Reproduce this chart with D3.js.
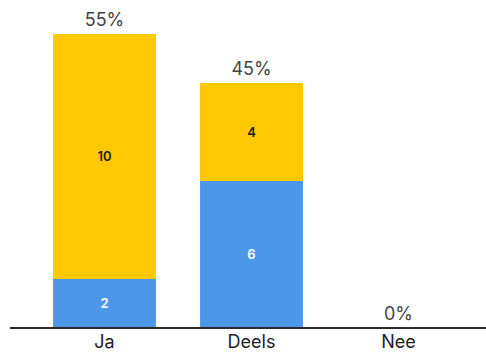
<!DOCTYPE html>
<html>
<head>
<meta charset="utf-8">
<script src="https://cdn.jsdelivr.net/npm/d3@7"></script>
<style>
  body { margin: 0; background: #fff; }
  svg { display: block; font-family: Inter, "Open Sans", sans-serif; }
</style>
</head>
<body>
<div id="chart"></div>
<script>
var categories = ['Ja', 'Deels', 'Nee'],
    blueValues = [2, 6, 0],
    yellowValues = [10, 4, 0],
    percentLabels = ['55%', '45%', '0%'];

var width = 486, height = 353,
    baseline = 328;

var svg = d3.select('#chart').append('svg')
    .attr('width', width)
    .attr('height', height);

var x = d3.scaleBand()
    .domain(categories)
    .range([31, 472])
    .paddingInner(0.3)
    .paddingOuter(0.15);

// 12 units -> top of tallest bar near y=34
var y = d3.scaleLinear()
    .domain([0, 12])
    .range([baseline, 34]);

var rows = categories.map((c, i) => ({
    cat: c, blue: blueValues[i], yellow: yellowValues[i], pct: percentLabels[i]
}));

var stack = d3.stack().keys(['blue', 'yellow'])(rows);
var colors = { blue: '#4d97eb', yellow: '#ffc800' };
var textColors = { blue: '#ffffff', yellow: '#1a1a1a' };

stack.forEach(layer => {
    var g = svg.append('g');
    g.selectAll('rect')
        .data(layer.filter(d => d[1] > d[0]))
        .enter().append('rect')
        .attr('x', d => x(d.data.cat))
        .attr('width', x.bandwidth())
        .attr('y', d => y(d[1]))
        .attr('height', d => y(d[0]) - y(d[1]))
        .attr('fill', colors[layer.key]);

    g.selectAll('text')
        .data(layer.filter(d => d[1] > d[0]))
        .enter().append('text')
        .attr('x', d => x(d.data.cat) + x.bandwidth() / 2)
        .attr('y', d => (y(d[0]) + y(d[1])) / 2)
        .attr('dy', '0.35em')
        .attr('text-anchor', 'middle')
        .attr('font-size', 13)
        .attr('font-weight', 600)
        .attr('fill', textColors[layer.key])
        .text(d => d.data[layer.key]);
});

// percentage labels
svg.append('g').selectAll('text')
    .data(rows)
    .enter().append('text')
    .attr('x', d => x(d.cat) + x.bandwidth() / 2)
    .attr('y', d => y(d.blue + d.yellow) - 8)
    .attr('text-anchor', 'middle')
    .attr('font-size', 18)
    .attr('fill', '#444')
    .text(d => d.pct);

// axis
var axis = svg.append('g')
    .attr('transform', 'translate(0,' + baseline + ')')
    .call(d3.axisBottom(x).tickSize(0).tickPadding(7));

axis.select('.domain').remove();
axis.append('line')
    .attr('x1', 10).attr('x2', width)
    .attr('stroke', '#2b2b2b')
    .attr('stroke-width', 2);
axis.selectAll('text')
    .attr('font-size', 18)
    .attr('font-family', 'Inter, "Open Sans", sans-serif')
    .attr('fill', '#222');
</script>
</body>
</html>
